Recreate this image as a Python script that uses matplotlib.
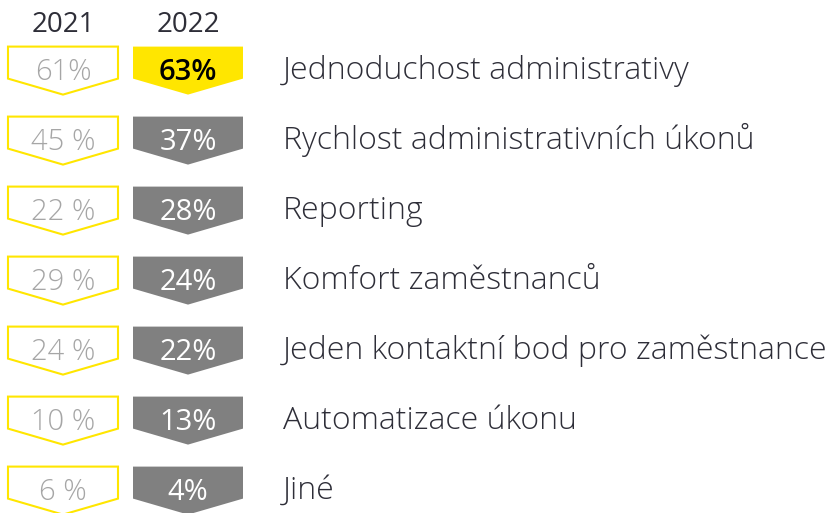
import matplotlib
matplotlib.use("Agg")
from matplotlib import pyplot as plt
from matplotlib.patches import Polygon

categories = ["Jednoduchost administrativy", "Rychlost administrativních úkonů", "Reporting",
              "Komfort zaměstnanců", "Jeden kontaktní bod pro zaměstnance",
              "Automatizace úkonu", "Jiné"]
labels_2021 = ["61%", "45 %", "22 %", "29 %", "24 %", "10 %", "6 %"]
labels_2022 = ["63%", "37%", "28%", "24%", "22%", "13%", "4%"]
years = ["2021", "2022"]

YELLOW = "#ffe600"
GREY = "#808080"
DARK = "#2e2e38"

plt.rcParams['font.family'] = ['Open Sans', 'DejaVu Sans']

fig = plt.figure(figsize=(8.34, 5.13), dpi=100)
ax = fig.add_axes([0, 0, 1, 1])
ax.set_xlim(0, 834)
ax.set_ylim(513, 0)
ax.axis('off')

# layout (pixels)
top0, step = 46.6, 70.0
w, h, tip = 110, 32, 16
col_x = [8, 133]
label_x = 283


def arrow(x0, top, **kw):
    pts = [(x0, top), (x0 + w, top), (x0 + w, top + h), (x0 + w / 2, top + h + tip), (x0, top + h)]
    ax.add_patch(Polygon(pts, closed=True, **kw))


for j, yr in enumerate(years):
    ax.text(col_x[j] + w / 2, 32, yr, ha='center', va='baseline', fontsize=20,
            color=DARK)

for i, cat in enumerate(categories):
    top = top0 + i * step
    # 2021 outline
    arrow(col_x[0], top, facecolor='white', edgecolor=YELLOW, lw=1.5)
    ax.text(col_x[0] + w / 2, top + 33, labels_2021[i], ha='center', va='baseline',
            fontsize=21, color='#a6a6a6', fontweight='light')
    # 2022 filled
    fc = YELLOW if i == 0 else GREY
    tc = 'black' if i == 0 else 'white'
    fw = 'semibold' if i == 0 else 'normal'
    arrow(col_x[1], top, facecolor=fc, edgecolor='none')
    ax.text(col_x[1] + w / 2, top + 33, labels_2022[i], ha='center', va='baseline',
            fontsize=21, color=tc, fontweight=fw)
    ax.text(label_x, top + 32, cat, ha='left', va='baseline', fontsize=23,
            color=DARK, fontweight='light')

fig.savefig("out.png", dpi=100)
